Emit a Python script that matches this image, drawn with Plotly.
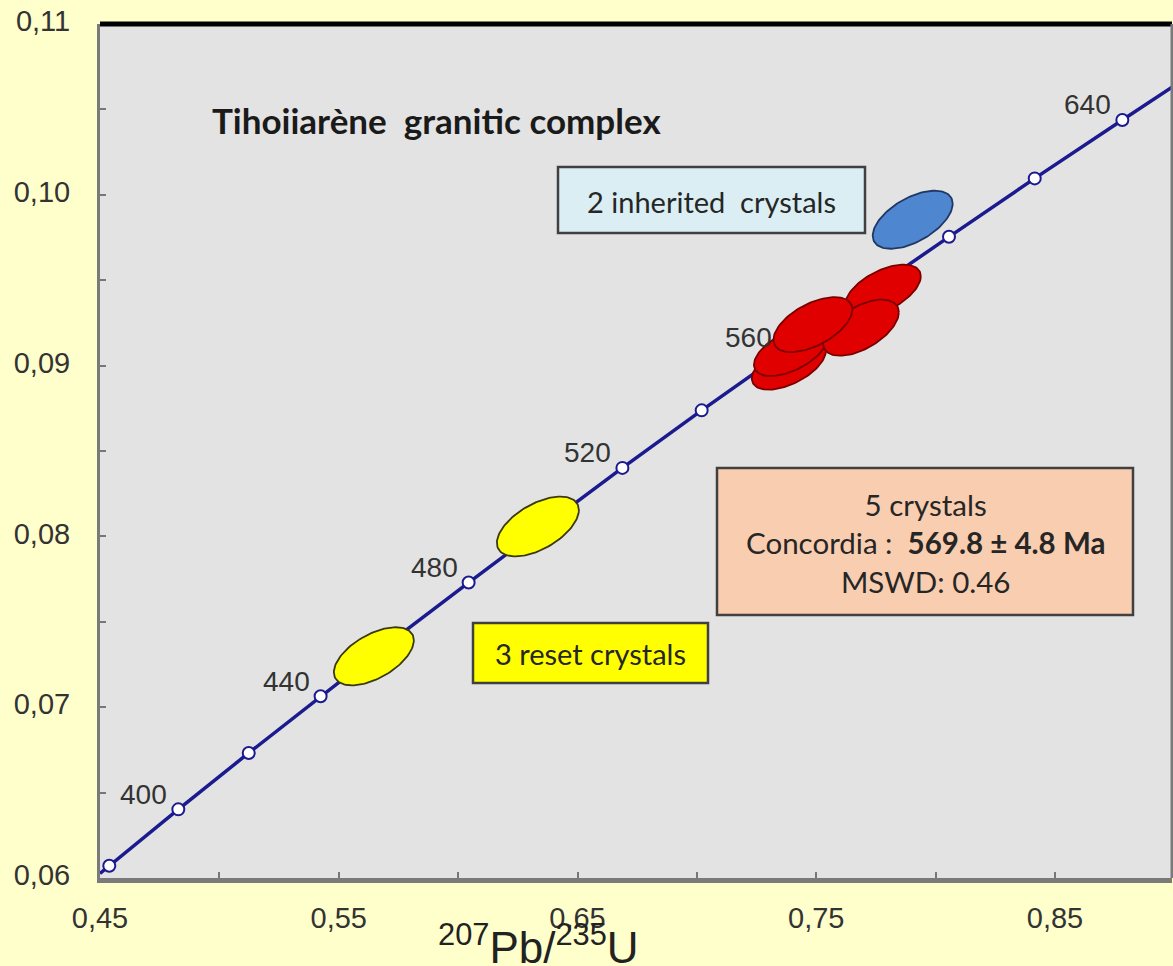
import numpy as np
import plotly.graph_objects as go

# ---------------- data ----------------
ages = [380, 400, 420, 440, 460, 480, 500, 520, 540, 560, 580, 600, 620, 640]
conc_x = [0.4539, 0.4828, 0.5123, 0.5424, 0.5731, 0.6044, 0.6363, 0.6688,
          0.7020, 0.7359, 0.7704, 0.8056, 0.8415, 0.8782]
conc_y = [0.06072, 0.06402, 0.06732, 0.07064, 0.07397, 0.07730, 0.08065, 0.08401,
          0.08738, 0.09076, 0.09414, 0.09754, 0.10096, 0.10438]
line_start = (0.4500, 0.06027)
line_end = (0.8990, 0.10630)
labeled_ages = [400, 440, 480, 520, 560, 640]

# error ellipses: centre, half-extent in x, half-extent in y, correlation
ell_group = ["reset", "reset", "inherited", "conc", "conc", "conc", "conc", "conc"]
ell_x = [0.5647, 0.6334, 0.7904, 0.7385, 0.7394, 0.7779, 0.7687, 0.7486]
ell_y = [0.07298, 0.08058, 0.09854, 0.09005, 0.09085, 0.09439, 0.09222, 0.09240]
ell_hx = [0.01675, 0.01717, 0.01675, 0.01550, 0.01550, 0.01590, 0.01590, 0.01654]
ell_hy = [0.00170, 0.00175, 0.00170, 0.00146, 0.00146, 0.00152, 0.00164, 0.00161]
ell_rho = [0.55, 0.55, 0.55, 0.55, 0.55, 0.55, 0.55, 0.55]

x_ticks = [0.45, 0.55, 0.65, 0.75, 0.85]
y_ticks = [0.06, 0.07, 0.08, 0.09, 0.10, 0.11]

# ---------------- styling ----------------
W, H = 1173, 966
ML, MR, MT, MB = 100, 1, 24, 88
PW, PH = W - ML - MR, H - MT - MB


def px(xp):
    return (xp - ML) / PW


def py(yp):
    return (H - MB - yp) / PH


group_style = {
    "reset": ("#FFFF00", "#3a3a10"),
    "inherited": ("#4F86D0", "#1F3864"),
    "conc": ("#E00000", "#7a0000"),
}
NAVY = "#1B1B8F"
TICKFONT = dict(family="Liberation Sans, Arial, sans-serif", size=29, color="#333333")
BOXFONT = "Lato, Carlito, Calibri, sans-serif"

fig = go.Figure()

# concordia curve
fig.add_trace(go.Scatter(
    x=[line_start[0]] + conc_x + [line_end[0]],
    y=[line_start[1]] + conc_y + [line_end[1]],
    mode="lines", line=dict(color=NAVY, width=3.5), hoverinfo="skip"))
fig.add_trace(go.Scatter(
    x=conc_x, y=conc_y, mode="markers", text=[str(a) for a in ages],
    marker=dict(size=12, color="white", line=dict(color=NAVY, width=2))))

# ellipses
t = np.linspace(0, 2 * np.pi, 121)
for g, cx, cy, hx, hy, r in zip(ell_group, ell_x, ell_y, ell_hx, ell_hy, ell_rho):
    fill, edge = group_style[g]
    ex = cx + hx * np.cos(t)
    ey = cy + hy * (r * np.cos(t) + np.sqrt(1 - r * r) * np.sin(t))
    fig.add_trace(go.Scatter(x=ex, y=ey, mode="lines", fill="toself",
                             fillcolor=fill, line=dict(color=edge, width=1.8),
                             hoverinfo="skip"))

annotations = []
for a in labeled_ages:
    i = ages.index(a)
    annotations.append(dict(x=conc_x[i], y=conc_y[i], xref="x", yref="y",
                            text=str(a), showarrow=False, xanchor="right",
                            yanchor="middle", xshift=-9, yshift=15,
                            font=dict(family=TICKFONT["family"], size=28, color="#333333")))

# text boxes
boxes = [
    (558, 167, 865, 233, "#DAEEF3", "2 inherited  crystals", 29),
    (473, 623, 708, 683, "#FFFF00", "3 reset crystals", 29),
    (717, 468, 1133, 615, "#F9CDB0",
     "5 crystals<br>Concordia :  <b>569.8 ± 4.8 Ma</b><br>MSWD: 0.46", 29.5),
]
shapes = []
for x0, y0, x1, y1, fc, txt, fs in boxes:
    shapes.append(dict(type="rect", xref="paper", yref="paper",
                       x0=px(x0), x1=px(x1), y0=py(y1), y1=py(y0),
                       fillcolor=fc, line=dict(color="#404040", width=2.5), layer="above"))
    annotations.append(dict(xref="paper", yref="paper", x=px((x0 + x1) / 2),
                            y=py((y0 + y1) / 2 + 1), text=txt, showarrow=False,
                            xanchor="center", yanchor="middle",
                            font=dict(family=BOXFONT, size=fs, color="#262626")))

# title
annotations.append(dict(xref="paper", yref="paper", x=px(210), y=py(120),
                        text="<b>Tihoiiarène  granitic complex</b>", showarrow=False,
                        xanchor="left", yanchor="middle",
                        font=dict(family=BOXFONT, size=35, color="#1a1a1a")))
# x axis title
annotations.append(dict(xref="paper", yref="paper", x=px(538), y=py(974),
                        text="<sup>207</sup>Pb/<sup>235</sup>U", showarrow=False,
                        xanchor="center", yanchor="bottom",
                        font=dict(family=TICKFONT["family"], size=44, color="#222222")))

# frame: black top, grey right
shapes.append(dict(type="line", xref="paper", yref="paper", x0=0, x1=1, y0=1, y1=1,
                   line=dict(color="black", width=5)))
shapes.append(dict(type="line", xref="paper", yref="paper", x0=1, x1=1, y0=0, y1=1,
                   line=dict(color="#7a7a7a", width=3)))

fig.update_layout(
    width=W, height=H, margin=dict(l=ML, r=MR, t=MT, b=MB, autoexpand=False),
    paper_bgcolor="#FFFFCC", plot_bgcolor="#E3E3E3", separators=",.",
    showlegend=False, annotations=annotations, shapes=shapes,
    xaxis=dict(range=[0.45, 0.899], tickvals=x_ticks, tickformat=".2f",
               ticks="inside", ticklen=6, tickwidth=2, tickcolor="#777777",
               minor=dict(tick0=0.45, dtick=0.05, ticks="inside", ticklen=6,
                          tickwidth=2, tickcolor="#777777"),
               showline=True, linecolor="#7a7a7a", linewidth=5,
               showgrid=False, zeroline=False, tickfont=TICKFONT,
               ticklabelstandoff=10, fixedrange=True),
    yaxis=dict(range=[0.06, 0.11], tickvals=y_ticks, tickformat=".2f",
               ticks="inside", ticklen=6, tickwidth=2, tickcolor="#777777",
               minor=dict(tick0=0.06, dtick=0.005, ticks="inside", ticklen=6,
                          tickwidth=2, tickcolor="#777777"),
               showline=True, linecolor="#7a7a7a", linewidth=3,
               showgrid=False, zeroline=False, tickfont=TICKFONT,
               ticklabelstandoff=21, ticklabelshift=-3, fixedrange=True),
)

fig.write_html("out.html", config={"displayModeBar": False},
               post_script="document.body.style.margin='0';"
                           "document.body.style.background='#FFFFCC';")
